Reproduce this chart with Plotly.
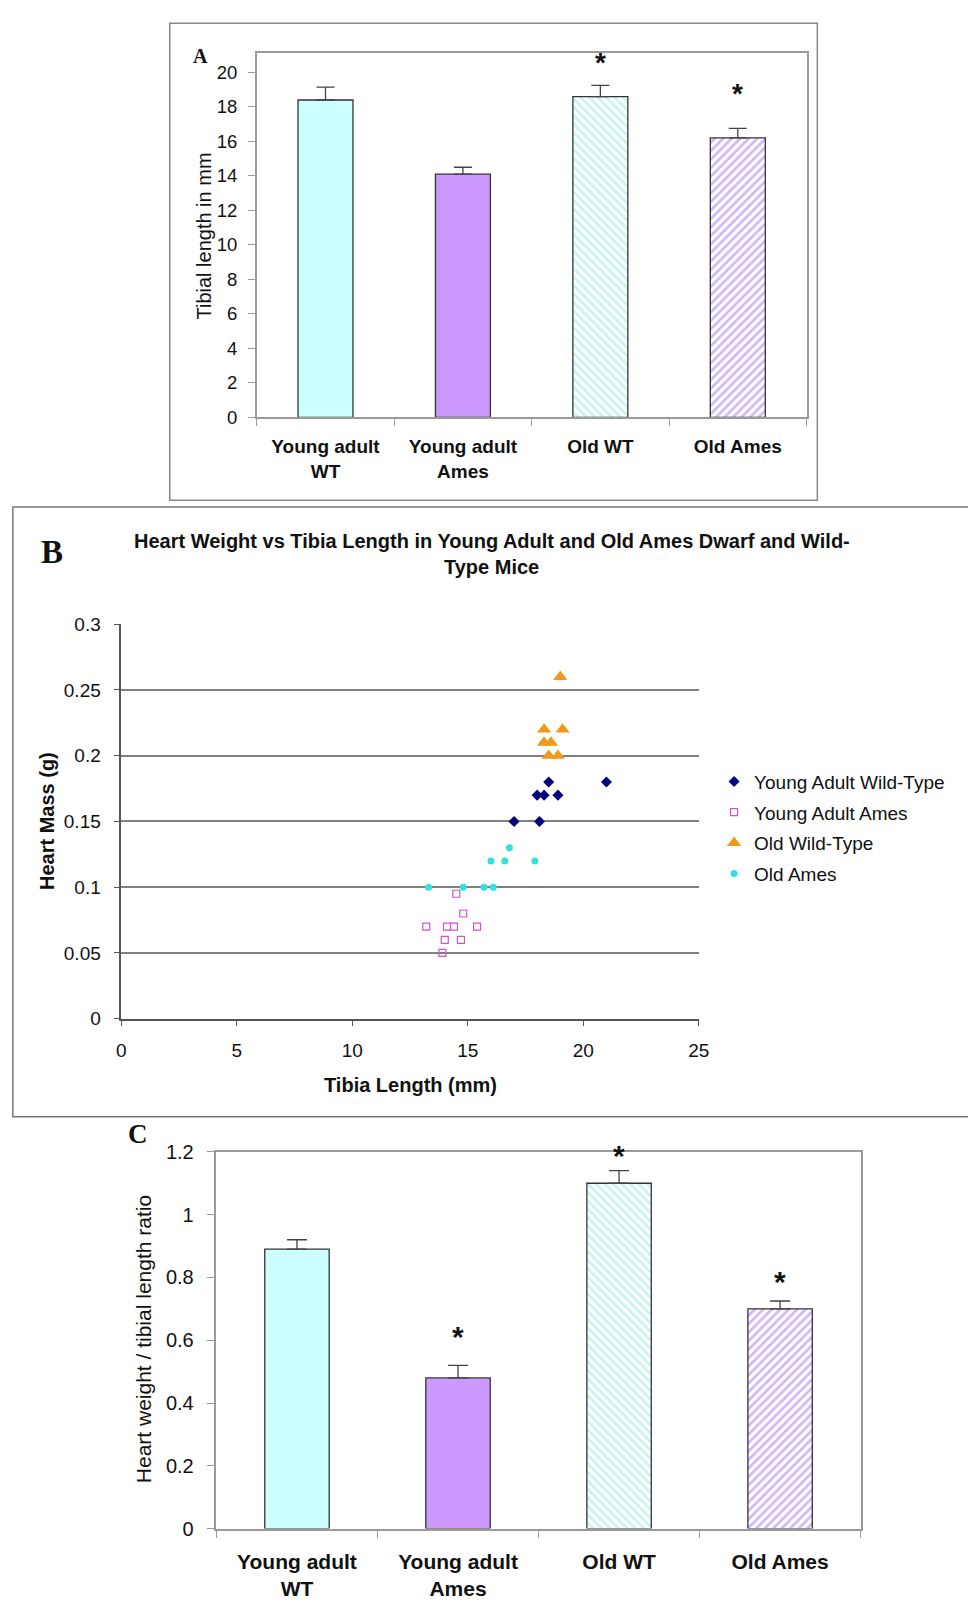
import plotly.graph_objects as go

W, H = 968, 1605

# ---------------- data ----------------
categories = ["Young adult<br>WT", "Young adult<br>Ames", "Old WT", "Old Ames"]

tibia_mean = [18.4, 14.1, 18.6, 16.2]
tibia_err = [0.75, 0.4, 0.65, 0.55]
tibia_star_y = [None, None, 20.8, 19.0]

ratio_mean = [0.89, 0.48, 1.10, 0.70]
ratio_err = [0.03, 0.04, 0.04, 0.025]
ratio_star_y = [None, 0.624, 1.2, 0.80]

ya_wt_x = [18.5, 21.0, 18.0, 18.3, 18.9, 17.0, 18.1]
ya_wt_y = [0.18, 0.18, 0.17, 0.17, 0.17, 0.15, 0.15]
ya_ames_x = [14.5, 14.8, 13.2, 14.1, 14.4, 15.4, 14.0, 14.7, 13.9]
ya_ames_y = [0.095, 0.08, 0.07, 0.07, 0.07, 0.07, 0.06, 0.06, 0.05]
old_wt_x = [19.0, 18.3, 19.1, 18.3, 18.6, 18.5, 18.9]
old_wt_y = [0.26, 0.22, 0.22, 0.21, 0.21, 0.20, 0.20]
old_ames_x = [16.8, 16.0, 16.6, 17.9, 13.3, 14.8, 15.7, 16.1]
old_ames_y = [0.13, 0.12, 0.12, 0.12, 0.10, 0.10, 0.10, 0.10]

b_yticks = [0, 0.05, 0.1, 0.15, 0.2, 0.25, 0.3]
b_yticktext = ["0", "0.05", "0.1", "0.15", "0.2", "0.25", "0.3"]
b_xticks = [0, 5, 10, 15, 20, 25]
a_yticks = [0, 2, 4, 6, 8, 10, 12, 14, 16, 18, 20]
c_yticks = [0, 0.2, 0.4, 0.6, 0.8, 1.0, 1.2]
c_yticktext = ["0", "0.2", "0.4", "0.6", "0.8", "1", "1.2"]

# ---------------- style ----------------
FONT = "Liberation Sans, Arial, sans-serif"
SERIF = "Liberation Serif, Times New Roman, serif"
bar_fill = ["#CCFFFF", "#CC99FF", "#FFFFFF", "#FFFFFF"]
bar_pattern = ["", "", "\\", "/"]
bar_fg = ["#CCFFFF", "#CC99FF", "#8FE8E8", "#A070F0"]
AX_GRAY = "#9A9A9A"


def px(x):
    return x / W


def py(y):
    return 1 - y / H


fig = go.Figure()


def add_bars(means, errs, xa, ya, capw):
    for i, cat in enumerate(categories):
        marker = dict(color=bar_fill[i], line=dict(color="#333333", width=1.3))
        if bar_pattern[i]:
            marker["pattern"] = dict(shape=bar_pattern[i], fgcolor=bar_fg[i],
                                     bgcolor="#FFFFFF", size=6, solidity=0.45)
        fig.add_trace(go.Bar(
            x=[cat], y=[means[i]], width=0.4, marker=marker,
            error_y=dict(type="data", symmetric=False, array=[errs[i]],
                         arrayminus=[0], color="#444444", thickness=1.3, width=capw),
            xaxis=xa, yaxis=ya, showlegend=False,
        ))


# Panel A
add_bars(tibia_mean, tibia_err, "x", "y", 9)

# Panel B
fig.add_trace(go.Scatter(
    x=ya_wt_x, y=ya_wt_y, mode="markers", name="Young Adult Wild-Type",
    marker=dict(symbol="diamond", size=8.5, color="#000080"),
    xaxis="x2", yaxis="y2", legendgroup="a",
))
fig.add_trace(go.Scatter(
    x=ya_ames_x, y=ya_ames_y, mode="markers", name="Young Adult Ames",
    marker=dict(symbol="square-open", size=7, color="#CC55CC", line=dict(width=1.2)),
    xaxis="x2", yaxis="y2", legendgroup="b",
))
fig.add_trace(go.Scatter(
    x=old_wt_x, y=old_wt_y, mode="markers", name="Old Wild-Type",
    marker=dict(symbol="triangle-up", size=12.5, color="#F09A1A"),
    xaxis="x2", yaxis="y2", legendgroup="c",
))
fig.add_trace(go.Scatter(
    x=old_ames_x, y=old_ames_y, mode="markers", name="Old Ames",
    marker=dict(symbol="circle", size=7, color="#33E0E0"),
    xaxis="x2", yaxis="y2", legendgroup="d",
))

# Panel C
add_bars(ratio_mean, ratio_err, "x3", "y3", 10)

annotations = []
# significance stars
for i, s in enumerate(tibia_star_y):
    if s is not None:
        annotations.append(dict(x=categories[i], y=s, xref="x", yref="y", text="<b>*</b>",
                                showarrow=False, yshift=-4,
                                font=dict(family=FONT, size=28, color="#111111")))
for i, s in enumerate(ratio_star_y):
    if s is not None:
        annotations.append(dict(x=categories[i], y=s, xref="x3", yref="y3", text="<b>*</b>",
                                showarrow=False, yshift=-4,
                                font=dict(family=FONT, size=30, color="#111111")))


def ann(text, x, y, size, family=FONT, bold=False, angle=0, color="#111111"):
    t = "<b>%s</b>" % text if bold else text
    annotations.append(dict(text=t, x=px(x), y=py(y), xref="paper", yref="paper",
                            showarrow=False, textangle=angle, xanchor="center",
                            yanchor="middle", font=dict(family=family, size=size, color=color)))


# panel letters
ann("A", 199, 46, 20, SERIF, bold=True)
ann("B", 48, 549, 33, SERIF, bold=True)
ann("C", 135, 1139, 27, SERIF, bold=True)
# axis titles
ann("Tibial length in mm", 202, 228, 20, angle=-90)
ann("Heart Mass (g)", 42, 821, 20, bold=True, angle=-90)
ann("Tibia Length (mm)", 412, 1089, 20, bold=True)
ann("Heart weight / tibial length ratio", 141, 1347, 21, angle=-90)
# B title
ann("Heart Weight vs Tibia Length in Young Adult and Old Ames Dwarf and Wild-", 495, 537, 20, bold=True)
ann("Type Mice", 495, 564, 20, bold=True)

shapes = [
    dict(type="rect", xref="paper", yref="paper", x0=px(167.5), x1=px(826), y0=py(496), y1=py(12.5),
         line=dict(color="#888888", width=1.5)),
    dict(type="rect", xref="paper", yref="paper", x0=px(8), x1=px(990), y0=py(1121), y1=py(503),
         line=dict(color="#777777", width=1.5)),
]

tickfont_a = dict(family=FONT, size=18.5, color="#111111")
catfont_a = dict(family=FONT, size=19, color="#111111", weight="bold")

fig.update_layout(
    width=W, height=H, margin=dict(l=0, r=0, t=0, b=0),
    paper_bgcolor="white", plot_bgcolor="rgba(0,0,0,0)",
    annotations=annotations, shapes=shapes,
    barmode="overlay",
    legend=dict(x=px(721), y=py(762), xanchor="left", yanchor="top",
                font=dict(family=FONT, size=19, color="#111111"),
                bgcolor="rgba(0,0,0,0)", tracegroupgap=3, itemwidth=30),
    xaxis=dict(domain=[px(256), px(815)], anchor="y", type="category", range=[-0.5, 3.5],
               categoryorder="array", categoryarray=categories,
               showline=True, linecolor=AX_GRAY, linewidth=1.5, mirror=True,
               ticks="outside", tickson="boundaries", ticklen=7, tickcolor=AX_GRAY,
               tickfont=catfont_a, showgrid=False, ticklabelstandoff=11),
    yaxis=dict(domain=[py(412), py(43)], anchor="x", range=[0, 21.1],
               tickvals=a_yticks, showline=True, linecolor=AX_GRAY, linewidth=1.5, mirror=True,
               ticks="outside", ticklen=7, tickcolor=AX_GRAY, tickfont=tickfont_a,
               showgrid=False, zeroline=False, ticklabelstandoff=7),
    xaxis2=dict(domain=[px(118.3), px(705.5)], anchor="y2", range=[0, 25],
                tickvals=b_xticks, showline=True, linecolor="#555555", linewidth=1.5,
                ticks="outside", ticklen=6, tickcolor="#555555",
                tickfont=dict(family=FONT, size=19, color="#111111"),
                showgrid=False, zeroline=False, ticklabelstandoff=8),
    yaxis2=dict(domain=[py(1021.7), py(621.7)], anchor="x2", range=[0, 0.3],
                tickvals=b_yticks, ticktext=b_yticktext,
                showline=True, linecolor="#555555", linewidth=1.5,
                ticks="outside", ticklen=6, tickcolor="#555555",
                tickfont=dict(family=FONT, size=19, color="#111111"),
                showgrid=True, gridcolor="#808080", gridwidth=1.5,
                zeroline=False, ticklabelstandoff=9),
    xaxis3=dict(domain=[px(215), px(870)], anchor="y3", type="category", range=[-0.5, 3.5],
                categoryorder="array", categoryarray=categories,
                showline=True, linecolor=AX_GRAY, linewidth=1.5, mirror=True,
                ticks="outside", tickson="boundaries", ticklen=8, tickcolor=AX_GRAY,
                tickfont=dict(family=FONT, size=21, color="#111111", weight="bold"),
                showgrid=False, ticklabelstandoff=13),
    yaxis3=dict(domain=[py(1538.7), py(1156.7)], anchor="x3", range=[0, 1.2],
                tickvals=c_yticks, ticktext=c_yticktext,
                showline=True, linecolor=AX_GRAY, linewidth=1.5, mirror=True,
                ticks="outside", ticklen=8, tickcolor=AX_GRAY,
                tickfont=dict(family=FONT, size=20, color="#111111"),
                showgrid=False, zeroline=False, ticklabelstandoff=9),
)

fig.write_html("out.html")
